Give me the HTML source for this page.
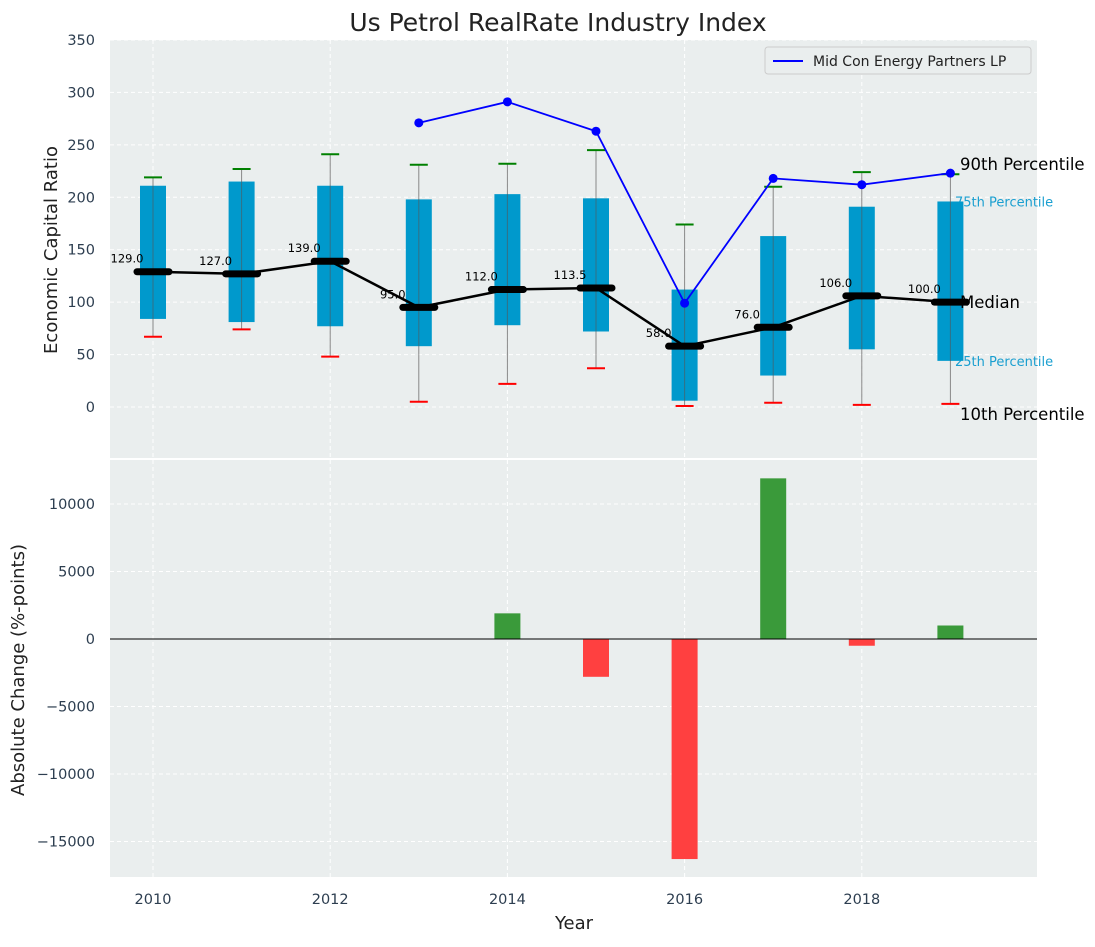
<!DOCTYPE html>
<html><head><meta charset="utf-8"><style>
body{margin:0;background:#fff;}
svg{font-family:"DejaVu Sans","Liberation Sans",sans-serif;}
</style></head><body>
<svg id="c" width="1095" height="942" xmlns="http://www.w3.org/2000/svg"></svg>
<script>
const years=[2010,2011,2012,2013,2014,2015,2016,2017,2018,2019];
const q1=[84,81,77,58,78,72,6,30,55,44];
const q3=[211,215,211,198,203,199,112,163,191,196];
const p10=[67,74,48,5,22,37,1,4,2,3];
const p90=[219,227,241,231,232,245,174,210,224,222];
const medians=[129,127,139,95,112,113.5,58,76,106,100];
const peerYears=[2013,2014,2015,2016,2017,2018,2019];
const peerValues=[271,291,263,99,218,212,223];
const changeYears=[2014,2015,2016,2017,2018,2019];
const changeValues=[1900,-2800,-16300,11900,-500,1000];
const yTicksTop=[0,50,100,150,200,250,300,350];
const yTicksBot=[-15000,-10000,-5000,0,5000,10000];
const xTicks=[2010,2012,2014,2016,2018];

const svg=document.getElementById('c');
const NS='http://www.w3.org/2000/svg';
function el(t,a,txt){const e=document.createElementNS(NS,t);for(const k in a)e.setAttribute(k,a[k]);if(txt!==undefined)e.textContent=txt;svg.appendChild(e);return e;}
const L=110,R=1037;
const X=v=>153+(v-2010)*88.6;
const Y1=v=>407-v*1.0486;
const Y2=v=>639-v*0.0135;

let e;
e=el('rect',{x:L,y:40,width:R-L,height:418,fill:'#eaeeee'});

e=el('rect',{x:L,y:460,width:R-L,height:417,fill:'#eaeeee'});


xTicks.forEach(t=>{
 el('line',{x1:X(t),x2:X(t),y1:40,y2:458,stroke:'#fff','stroke-dasharray':'4,3'});
 el('line',{x1:X(t),x2:X(t),y1:460,y2:877,stroke:'#fff','stroke-dasharray':'4,3'});
 e=el('text',{x:X(t),y:904,'text-anchor':'middle','font-size':14.5,fill:'#2d3e50'},t);
 
});
yTicksTop.forEach(t=>{
 el('line',{x1:L,x2:R,y1:Y1(t),y2:Y1(t),stroke:'#fff','stroke-dasharray':'4,3'});
 e=el('text',{x:95,y:Y1(t)+5,'text-anchor':'end','font-size':14.5,fill:'#2d3e50'},t);
 
});
yTicksBot.forEach(t=>{
 el('line',{x1:L,x2:R,y1:Y2(t),y2:Y2(t),stroke:'#fff','stroke-dasharray':'4,3'});
 e=el('text',{x:95,y:Y2(t)+5,'text-anchor':'end','font-size':14.5,fill:'#2d3e50'},(t<0?'\u2212'+(-t):t));
 
});

const lx=960;
e=el('text',{x:955,y:Y1(196)+5,'font-size':13,fill:'#1a9fd0'},'75th Percentile');

e=el('text',{x:955,y:Y1(44)+5,'font-size':13,fill:'#1a9fd0'},'25th Percentile');


years.forEach((yr,i)=>{
 const x=X(yr);
 e=el('line',{x1:x,x2:x,y1:Y1(p10[i]),y2:Y1(p90[i]),stroke:'#888','stroke-width':1});
 
 e=el('rect',{x:x-13,y:Y1(q3[i]),width:26,height:Y1(q1[i])-Y1(q3[i]),fill:'#0099cc'});
 
 el('line',{x1:x,x2:x,y1:Y1(q1[i]),y2:Y1(q3[i]),stroke:'#555','stroke-width':1,opacity:0.6});
 e=el('line',{x1:x-9,x2:x+9,y1:Y1(p90[i]),y2:Y1(p90[i]),stroke:'green','stroke-width':2});
 
 e=el('line',{x1:x-9,x2:x+9,y1:Y1(p10[i]),y2:Y1(p10[i]),stroke:'red','stroke-width':2});
 
});
e=el('polyline',{points:years.map((y,i)=>X(y)+','+Y1(medians[i])).join(' '),fill:'none',stroke:'#000','stroke-width':2.5});

years.forEach((yr,i)=>{
 e=el('line',{x1:X(yr)-16,x2:X(yr)+16,y1:Y1(medians[i]),y2:Y1(medians[i]),stroke:'#000','stroke-width':7,'stroke-linecap':'round'});
 
 e=el('text',{x:X(yr)-26,y:Y1(medians[i])-9,'text-anchor':'middle','font-size':11.5,fill:'#000'},medians[i].toFixed(1));
 
});
e=el('polyline',{points:peerYears.map((y,i)=>X(y)+','+Y1(peerValues[i])).join(' '),fill:'none',stroke:'#0000ff','stroke-width':1.8});

peerYears.forEach((y,i)=>{
 e=el('circle',{cx:X(y),cy:Y1(peerValues[i]),r:4.5,fill:'#0000ff'});
 
});
[['90th Percentile',170,'p90-label'],['Median',308,'median-label'],['10th Percentile',420,'p10-label']].forEach(a=>{
 e=el('text',{x:lx,y:a[1],'font-size':16.5,fill:'#000'},a[0]);
 
});
e=el('rect',{x:765,y:47,width:266,height:27,fill:'#eaeeee',stroke:'#ccc',rx:3});

el('line',{x1:773,x2:803,y1:61,y2:61,stroke:'#0000ff','stroke-width':2});
e=el('text',{x:813,y:66,'font-size':14,fill:'#222'},'Mid Con Energy Partners LP');


changeYears.forEach((y,i)=>{
 const v=changeValues[i];
 e=el('rect',{x:X(y)-13,y:Math.min(Y2(v),Y2(0)),width:26,height:Math.abs(Y2(v)-Y2(0)),fill:v>=0?'#3a9a3a':'#ff4040'});
 
});
el('line',{x1:L,x2:R,y1:Y2(0),y2:Y2(0),stroke:'#000','stroke-width':1});

e=el('text',{x:558,y:31,'text-anchor':'middle','font-size':25,fill:'#222'},'Us Petrol RealRate Industry Index');

e=el('text',{x:574,y:929,'text-anchor':'middle','font-size':18,fill:'#222'},'Year');

e=el('text',{x:57,y:250,'text-anchor':'middle','font-size':18,fill:'#222',transform:'rotate(-90 57 250)'},'Economic Capital Ratio');

e=el('text',{x:24,y:670,'text-anchor':'middle','font-size':18,fill:'#222',transform:'rotate(-90 24 670)'},'Absolute Change (%-points)');

</script>
</body></html>
